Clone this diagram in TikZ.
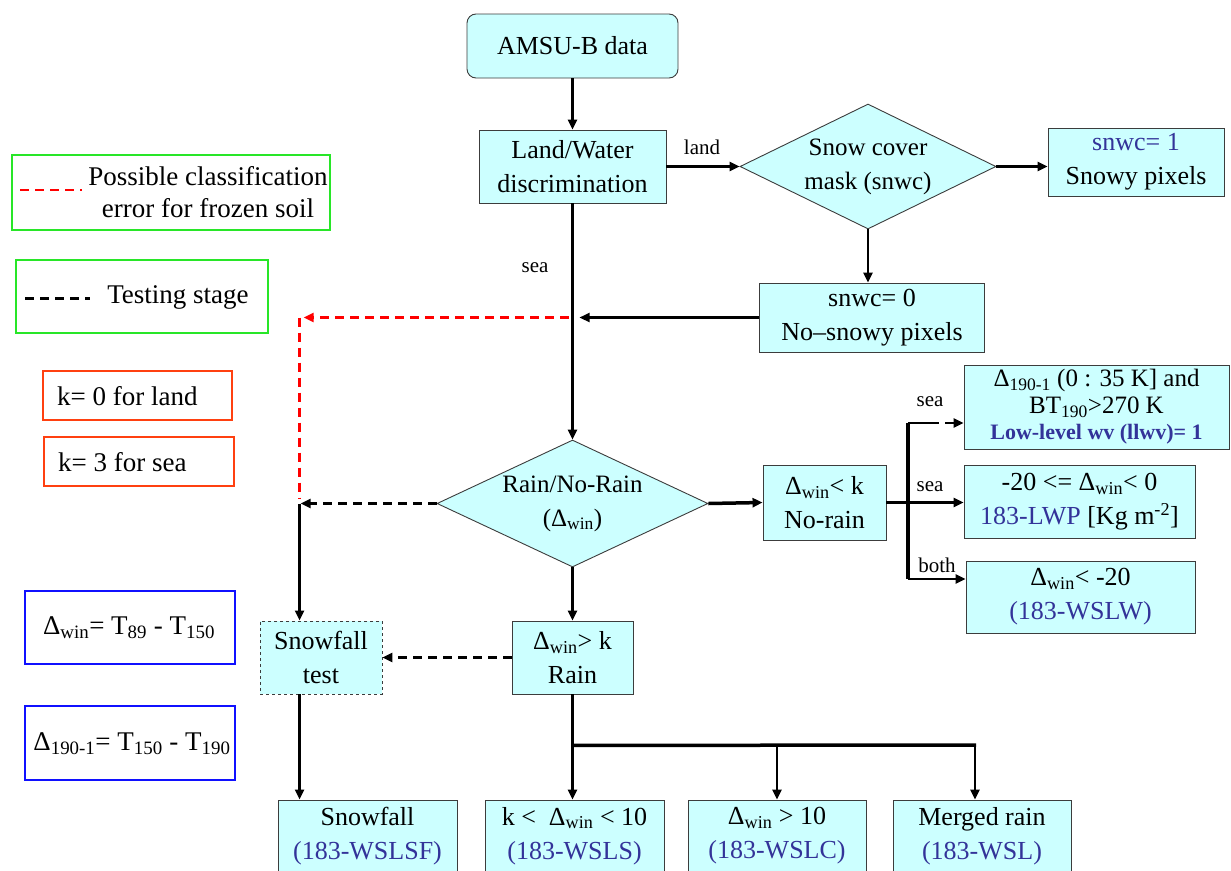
\documentclass[tikz,border=0pt]{standalone}
\usepackage{fontspec}
\setmainfont{Liberation Serif}
\usetikzlibrary{arrows.meta,shapes.geometric,calc}
\definecolor{boxfill}{RGB}{204,255,255}
\definecolor{boxline}{RGB}{60,60,60}
\definecolor{navytext}{RGB}{51,51,153}
\definecolor{legendgreen}{RGB}{40,230,40}
\definecolor{legendorange}{RGB}{255,64,16}
\definecolor{legendblue}{RGB}{16,16,255}
\definecolor{errred}{RGB}{255,0,0}
\newcommand\fsz[2]{\fontsize{#1}{#2}\selectfont}
\newcommand\sub[1]{\textsubscript{#1}}
\newcommand\nv[1]{{\color{navytext}#1}}

\begin{document}
\begin{tikzpicture}[x=1pt,y=-1pt,
  proc/.style={draw=boxline, fill=boxfill, line width=0.9pt, align=center,
    inner sep=0pt, font=\fsz{26}{34}},
  decision/.style={proc, diamond, font=\fsz{25}{34}},
  tip/.style={-{Triangle[length=10pt,width=9pt]}},
  link/.style={line width=2.3pt},
  flow/.style={link, tip},
  heavy/.style={line width=3.5pt},
  testflow/.style={flow, dash pattern=on 9pt off 6pt},
  errflow/.style={line width=2.3pt, errred, dash pattern=on 9pt off 6pt},
  lbl/.style={font=\fsz{21}{24}, inner sep=0pt},
  legend/.style={line width=2.5pt, inner sep=0pt},
  legtext/.style={font=\fsz{27}{32}, align=center, inner sep=0pt}
]
\useasboundingbox (0,0) rectangle (1231,870);

% ---------- legend ----------
\node[legend, draw=legendgreen, minimum width=318, minimum height=75] (lgerr) at (171,192.5) {};
\coordinate (errA) at (20,190);
\coordinate (errB) at (82,190);
\draw[errflow, line width=2.5pt] (errA) -- (errB);
\node[legtext] (lgerrtxt) at (208,192) {Possible classification\\error for frozen soil};

\node[legend, draw=legendgreen, minimum width=252, minimum height=73] (lgtest) at (142,296.5) {};
\coordinate (tstA) at (25,298);
\coordinate (tstB) at (90,298);
\draw[line width=3pt, dash pattern=on 9pt off 6pt] (tstA) -- (tstB);
\node[legtext] (lgtesttxt) at (178,297) {Testing stage};

\node[legend, draw=legendorange, minimum width=189, minimum height=49] (kland) at (137.5,395.5) {};
\node[legtext, anchor=west] (klandtxt) at (57,396) {k= 0 for land};
\node[legend, draw=legendorange, minimum width=190, minimum height=49] (ksea) at (139,461.5) {};
\node[legtext, anchor=west] (kseatxt) at (58,462) {k= 3 for sea};

\node[legend, draw=legendblue, minimum width=210, minimum height=73] (defwin) at (130,627.5) {};
\node[legtext] (defwintxt) at (129,628) {Δ\sub{win}= T\sub{89} - T\sub{150}};
\node[legend, draw=legendblue, minimum width=210, minimum height=74] (defdel) at (130,743) {};
\node[legtext] (defdeltxt) at (132,744) {Δ\sub{190-1}= T\sub{150} - T\sub{190}};

% ---------- flow chart nodes ----------
\node[proc, rounded corners=9pt, minimum width=211, minimum height=64] (amsu) at (572.5,46) {AMSU-B data};
\node[proc, minimum width=187, minimum height=73] (land) at (572.5,166.5) {Land/Water\\discrimination};
\node[decision, aspect=2.06, minimum width=256, minimum height=125] (snow) at (868,166.5) {Snow cover\\mask (snwc)};
\node[proc, minimum width=176, minimum height=68] (snwc1) at (1136,162) {\nv{snwc= 1}\\Snowy pixels};
\node[proc, minimum width=225, minimum height=69] (snwc0) at (872,317.5) {snwc= 0\\No–snowy pixels};
\node[decision, aspect=2.13, minimum width=271, minimum height=127] (rain) at (572.5,503.5) {Rain/No-Rain\\(Δ\sub{win})};
\node[proc, minimum width=123, minimum height=75] (norain) at (824.5,502.5) {Δ\sub{win}< k\\No-rain};
\node[proc, minimum width=265, minimum height=84, font=\fsz{25}{26.5}] (lwv) at (1096.5,407)
  {Δ\sub{190-1} (0 : 35 K] and\\BT\sub{190}>270 K\\\nv{\fsz{22}{26.5}\bfseries Low-level wv (llwv)= 1}};
\node[proc, minimum width=231, minimum height=73] (lwp) at (1079.5,501.5)
  {-20 <= Δ\sub{win}< 0\\\nv{183-LWP} [Kg m\textsuperscript{-2}]};
\node[proc, minimum width=229, minimum height=72] (wslw) at (1080.5,597) {Δ\sub{win}< -20\\\nv{(183-WSLW)}};
\node[proc, minimum width=121, minimum height=73] (rainbox) at (572.5,657.5) {Δ\sub{win}> k\\Rain};
\node[proc, dashed, minimum width=122, minimum height=73] (sftest) at (321,657.5) {Snowfall\\test};
\node[proc, minimum width=179, minimum height=72] (sf) at (367.5,836) {Snowfall\\\nv{(183-WSLSF)}};
\node[proc, minimum width=179, minimum height=72] (kwin) at (574.5,836) {k <\ \ Δ\sub{win} < 10\\\nv{(183-WSLS)}};
\node[proc, minimum width=178, minimum height=72] (cwin) at (777,836) {Δ\sub{win} > 10\\\nv{(183-WSLC)}};
\node[proc, minimum width=178, minimum height=72] (merged) at (982,836) {Merged rain\\\nv{(183-WSL)}};

% ---------- connectors: upper part ----------
\draw[flow] (amsu) -- (land);
\draw[flow] (land.east) -- (land.east -| snow.west);
\node[lbl] (landlbl) at (702,147) {land};
\draw[heavy, tip] (snow.east) -- (snow.east -| snwc1.west);
\draw[flow] (snow.south) -- (snow.south |- snwc0.north);
\draw[flow] (land.south) -- (rain.north);
\node[lbl] (sealbl) at (535,268) {sea};

\coordinate (trunk) at (land.south |- snwc0.west);
\coordinate (sfin) at ($(sftest.north west)+(40,0)$);
\coordinate (errcorner) at (trunk -| sfin);
\coordinate (testjoin) at (rain.west -| sfin);
\draw[flow] (snwc0.west) -- ($(trunk)+(7,0)$);
\draw[errflow, tip] ($(trunk)+(-4,0)$) -- ($(errcorner)+(4,0)$);
\draw[errflow] (errcorner) -- ($(testjoin)+(0,-5)$);

% ---------- connectors: snowfall test branch ----------
\draw[testflow] (rain.west) -- ($(testjoin)+(1,0)$);
\draw[flow] (testjoin) -- (sfin);
\draw[testflow] (rainbox.west) -- (sftest.east);
\draw[flow] (sftest.south -| sfin) -- (sf.north -| sfin);

% ---------- connectors: rain branch ----------
\draw[flow] (rain.south) -- (rainbox.north);
\coordinate (bus) at ($(rainbox.south)+(0,51)$);
\coordinate (busmid) at (bus -| cwin.north);
\coordinate (busend) at (975,745);
\draw[link] (rainbox.south) -- (bus);
\draw[heavy, line cap=butt] ($(bus)+(-1.2,0)$) -- ($(busend)+(1.2,0)$);
\draw[flow] (bus) -- (bus |- kwin.north);
\draw[flow] (busmid) -- (cwin.north);
\draw[flow] (busend) -- (busend |- merged.north);

% ---------- connectors: no-rain branch ----------
\draw[heavy, tip] (rain.east) -- (norain.west);
\coordinate (forktop) at (908,423);
\coordinate (forkbot) at (908,579);
\draw[heavy] (forktop) -- (forkbot);
\draw[link, line width=2.5pt] (forktop) -- ($(forktop)+(22,0)$);
\draw[testflow] ($(forktop)+(22,0)$) -- (forktop -| lwv.west);
\draw[flow] (norain.east) -- (norain.east -| lwp.west);
\draw[flow] (forkbot) -- (forkbot -| wslw.west);
\node[lbl] (sealwv) at (930,402) {sea};
\node[lbl] (sealwp) at (930,487) {sea};
\node[lbl] (bothlbl) at (937,565) {both};
\end{tikzpicture}
\end{document}
